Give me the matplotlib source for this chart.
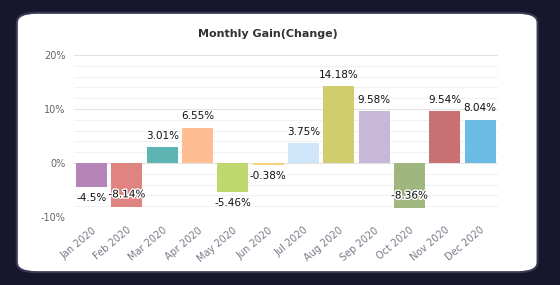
import matplotlib.pyplot as plt
import matplotlib.patheffects as pe
from matplotlib.patches import FancyBboxPatch

# monthly gain in percent
months = ["Jan 2020", "Feb 2020", "Mar 2020", "Apr 2020", "May 2020", "Jun 2020",
          "Jul 2020", "Aug 2020", "Sep 2020", "Oct 2020", "Nov 2020", "Dec 2020"]
gains = [-4.5, -8.14, 3.01, 6.55, -5.46, -0.38, 3.75, 14.18, 9.58, -8.36, 9.54, 8.04]
labels = ["-4.5%", "-8.14%", "3.01%", "6.55%", "-5.46%", "-0.38%",
          "3.75%", "14.18%", "9.58%", "-8.36%", "9.54%", "8.04%"]
colors = ["#b485b6", "#e08482", "#5cb5b2", "#ffbd93", "#bfd96e", "#f7d27a",
          "#cfe5f8", "#d1cd6d", "#c7b8d9", "#9fb77f", "#c87072", "#6cbce6"]

fig = plt.figure(figsize=(5.6, 2.85), dpi=100)
fig.patch.set_facecolor("#16162c")

# white rounded card on the dark frame, kept behind the axes
card = FancyBboxPatch((0.03, 0.045), 0.93, 0.91,
                      boxstyle="round,pad=0,rounding_size=0.035",
                      transform=fig.transFigure, facecolor="white",
                      edgecolor="#3a3a55", linewidth=1.5, zorder=-5)
fig.add_artist(card)

ax = fig.add_axes([0.132, 0.239, 0.757, 0.568])
ax.set_facecolor("none")

x = range(len(months))
ax.bar(x, gains, width=0.88, color=colors, zorder=2)

# gridlines every 2%, major every 10%
for v in range(-8, 21, 2):
    ax.axhline(v, color="#e3e3e3" if v % 10 == 0 else "#f1f1f1", lw=0.8, zorder=1)

ax.set_xlim(-0.5, 11.5)
ax.set_ylim(-10, 20)
ax.set_yticks([-10, 0, 10, 20])
ax.set_yticklabels(["-10%", "0%", "10%", "20%"], color="#666666", fontsize=7)
ax.set_xticks(list(x))
ax.set_xticklabels(months, rotation=40, ha="right", rotation_mode="anchor",
                   color="#7a7a8a", fontsize=7)
ax.tick_params(length=0, pad=6)
for s in ax.spines.values():
    s.set_visible(False)

# value labels; the two deepest drops sit inside the bar with a halo
for i, (g, lab) in enumerate(zip(gains, labels)):
    if g >= 0:
        off = 8
    elif g < -8:
        off = 9
    else:
        off = -8
    t = ax.annotate(lab, (i, g), xytext=(0, off), textcoords="offset points",
                    ha="center", va="center", fontsize=7.5, color="#111111", zorder=3)
    if g < -8:
        t.set_path_effects([pe.withStroke(linewidth=2, foreground="white")])

fig.text(0.478, 0.882, "Monthly Gain(Change)", ha="center", va="center",
         fontsize=8, fontweight="bold", color="#333333")

fig.savefig("out.png", dpi=100, facecolor=fig.get_facecolor())
